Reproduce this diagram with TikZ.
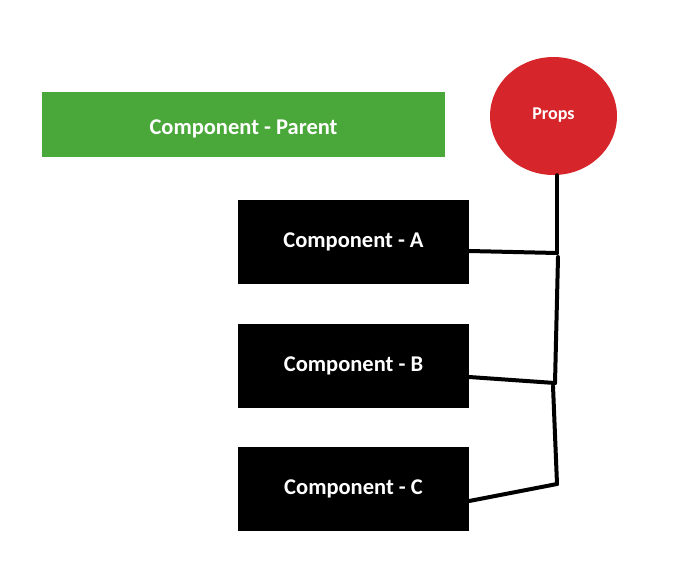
\documentclass[tikz,border=0pt]{standalone}
\usepackage{fontspec}
\setmainfont{Carlito}
\definecolor{pgreen}{HTML}{4AA83A}
\definecolor{pred}{HTML}{D6262B}
\usetikzlibrary{shapes.geometric}
\begin{document}
\begin{tikzpicture}[x=1pt,y=-1pt,
  lbl/.style={text=white,font=\bfseries\fontsize{22.5}{26}\selectfont},
  compbox/.style={fill=black,draw=none,minimum width=231pt,minimum height=84pt,inner sep=0pt,lbl},
  wire/.style={line width=4pt,line cap=round,line join=round}]
\useasboundingbox (0,0) rectangle (676,581);
\node[fill=pgreen,minimum width=403pt,minimum height=65pt,inner sep=0pt,lbl,text height=22pt,text depth=2pt] (parent) at (243.5,124.5) {Component - Parent};
\node[ellipse,fill=pred,minimum width=127pt,minimum height=118pt,inner sep=0pt,text=white,font=\bfseries\fontsize{18}{21}\selectfont,text height=13pt,text depth=6pt] (props) at (553.5,116) {Props};
\node[compbox] (A) at (353.5,242) {Component - A};
\node[compbox] (B) at (353.5,366) {Component - B};
\node[compbox] (C) at (353.5,489) {Component - C};
\coordinate (j1) at (557,253);
\coordinate (j1b) at (558,257);
\coordinate (j2) at (555,383);
\coordinate (j2b) at (553,386);
\coordinate (j3) at (557,484);
\draw[wire] (props.south -| j1) -- (j1);
\draw[wire] (A.east |- 0,251) -- (j1);
\draw[wire] (j1b) -- (j2);
\draw[wire] (B.east |- 0,377) -- (j2);
\draw[wire] (j2b) -- (j3);
\draw[wire] (C.east |- 0,501) -- (j3);
\end{tikzpicture}
\end{document}
